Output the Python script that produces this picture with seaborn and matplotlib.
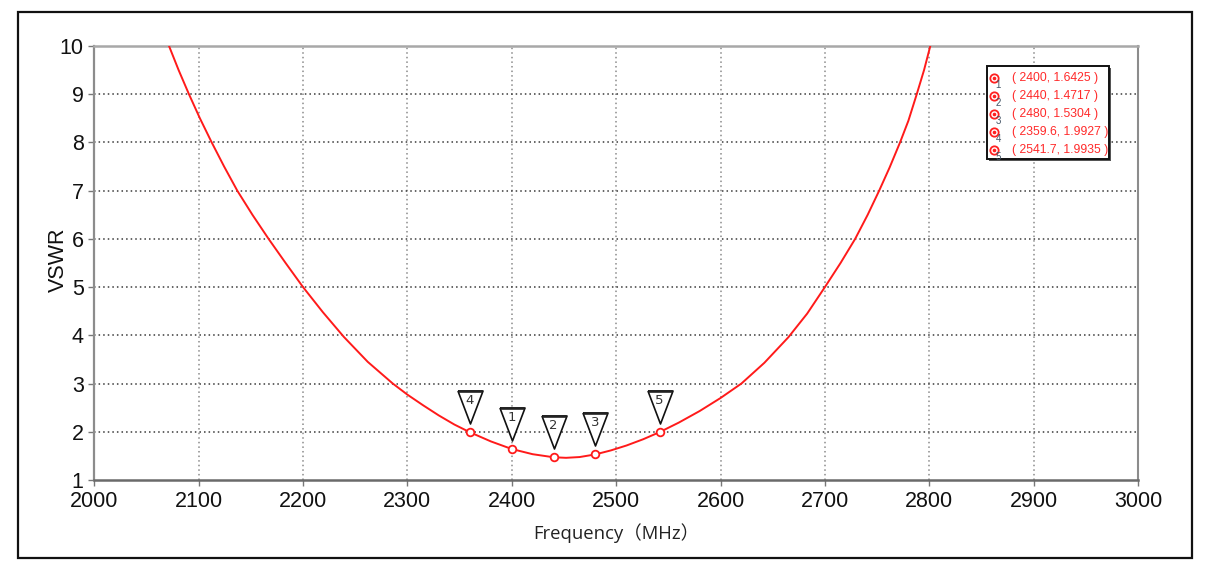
import matplotlib
matplotlib.use("Agg")
import matplotlib.pyplot as plt
import numpy as np
import pandas as pd
import seaborn as sns
from matplotlib.patches import Rectangle
from matplotlib.lines import Line2D
from matplotlib.transforms import offset_copy

# ---- data ----
freq_mhz = [2071.6, 2080.8, 2090.7, 2101.2, 2112.5, 2124.4, 2137, 2151.5, 2167, 2183.3,
            2200, 2219, 2239, 2262, 2286, 2300, 2315, 2330, 2345, 2359.6,
            2380, 2400, 2420, 2440, 2452, 2465, 2480, 2495, 2510, 2526,
            2541.7, 2560, 2580, 2600, 2620, 2642, 2665, 2683, 2700, 2715,
            2729, 2741, 2752, 2762, 2772, 2780, 2788, 2795, 2801]
vswr = [10, 9.5, 9, 8.5, 8, 7.5, 7, 6.5, 6, 5.5,
        5, 4.48, 3.97, 3.45, 3.0, 2.77, 2.55, 2.34, 2.15, 1.9927,
        1.80, 1.6425, 1.535, 1.4717, 1.46, 1.476, 1.5304, 1.614, 1.716, 1.846,
        1.9935, 2.19, 2.43, 2.70, 3.0, 3.43, 3.96, 4.45, 5, 5.5,
        6, 6.5, 7, 7.48, 8, 8.45, 9, 9.5, 10]

marker_ids = [1, 2, 3, 4, 5]
marker_freq = [2400, 2440, 2480, 2359.6, 2541.7]
marker_vswr = [1.6425, 1.4717, 1.5304, 1.9927, 1.9935]

x_ticks = list(range(2000, 3001, 100))
y_ticks = list(range(1, 11))

W, H = 1221, 570
sns.set_theme(style="white")
plt.rcParams["font.family"] = ["Liberation Sans", "DejaVu Sans"]

fig = plt.figure(figsize=(W / 100, H / 100), dpi=100)
fig.patch.set_facecolor("white")

# outer frame
fig.add_artist(Rectangle((18 / W, 1 - 558 / H), (1192 - 18) / W, (558 - 12) / H,
                         transform=fig.transFigure, fill=False, ec="#111111", lw=1.6))

L, R, T, B = 94.3, 1138, 46, 480
ax = fig.add_axes([L / W, 1 - B / H, (R - L) / W, (B - T) / H])
ax.set_facecolor("white")

# grid
for xv in x_ticks[1:-1]:
    ax.axvline(xv, color="#8a8a8a", lw=1.1, ls=(0, (1, 2)), zorder=1)
for yv in y_ticks[1:-1]:
    ax.axhline(yv, color="#3a3a3a", lw=1.1, ls=(0, (1, 2)), zorder=1)

df = pd.DataFrame({"Frequency": freq_mhz, "VSWR": vswr})
sns.lineplot(data=df, x="Frequency", y="VSWR", ax=ax, color="#ff1a1a", lw=1.4, zorder=3)

mdf = pd.DataFrame({"f": marker_freq, "v": marker_vswr, "id": marker_ids})
ax.plot(mdf["f"], mdf["v"], "o", mfc="white", mec="#ff1a1a", ms=5.5, mew=1.3, zorder=4)

# triangle flags
px = 0.72
tri = [(-0.38, 0.5), (0.38, 0.5), (0.0, -0.5), (-0.38, 0.5)]
for f, v, i in zip(mdf["f"], mdf["v"], mdf["id"]):
    tr = offset_copy(ax.transData, fig=fig, x=0, y=25.5 * px, units="points")
    ax.plot([f], [v], marker=tri, ms=33 * px, mfc="white", mec="#111111", mew=1.2,
            transform=tr, clip_on=False, zorder=5, ls="none")
    tr2 = offset_copy(ax.transData, fig=fig, x=0, y=41.5 * px, units="points")
    ax.plot([f], [v], marker="_", ms=24 * px, mec="#222222", mew=1.9,
            transform=tr2, clip_on=False, zorder=6, ls="none")
    tr3 = offset_copy(ax.transData, fig=fig, x=0, y=32 * px, units="points")
    ax.text(f, v, str(i), transform=tr3, ha="center", va="center", fontsize=9.5,
            color="#333333", zorder=7, family=["DejaVu Sans"])

ax.set_xlim(2000, 3000)
ax.set_ylim(1, 10)
ax.set_xticks(x_ticks)
ax.set_yticks(y_ticks)
ax.tick_params(axis="both", which="major", labelsize=15.5, labelcolor="#111111",
               length=4, width=1, color="#777777", direction="out",
               bottom=True, left=True, pad=3.6)
for side, c, w in [("left", "#8c8c8c", 1.6), ("bottom", "#6a6a6a", 1.8),
                   ("top", "#a8a8a8", 1.8), ("right", "#8c8c8c", 1.5)]:
    ax.spines[side].set_visible(True)
    ax.spines[side].set_color(c)
    ax.spines[side].set_linewidth(w)

ax.set_ylabel("VSWR", fontsize=15.5, color="#111111")
ax.yaxis.set_label_coords(-0.024, 0.508)
ax.set_xlabel("Frequency（MHz）", fontsize=13.3, color="#222222",
              family=["Open Sans", "Noto Sans CJK SC"])
ax.xaxis.label.set_va("center")
ax.xaxis.set_label_coords(0.5, (B - 533) / (B - T))

# marker legend box
bx0, by0, bx1, by1 = 987, 66, 1109, 159
fig.add_artist(Rectangle(((bx0 + 2) / W, 1 - (by1 + 2) / H), (bx1 - bx0) / W, (by1 - by0) / H,
                         transform=fig.transFigure, fc="#555555", ec="none", zorder=8))
fig.add_artist(Rectangle((bx0 / W, 1 - by1 / H), (bx1 - bx0) / W, (by1 - by0) / H,
                         transform=fig.transFigure, fc="white", ec="#111111", lw=1.4, zorder=9))
for k, (f, v, i) in enumerate(zip(mdf["f"], mdf["v"], mdf["id"])):
    yy = 78.3 + k * 18
    fig.add_artist(Line2D([994 / W], [1 - yy / H], marker="o", ms=6, mfc="white",
                          mec="#ff2020", mew=1.3, transform=fig.transFigure, zorder=10))
    fig.add_artist(Line2D([994 / W], [1 - yy / H], marker="o", ms=1.6, mfc="#ff2020",
                          mec="#ff2020", transform=fig.transFigure, zorder=11))
    fig.text(998.5 / W, 1 - (yy + 7) / H, str(i), fontsize=7, color="#445566",
             ha="center", va="center", zorder=11)
    fig.text(1011.5 / W, 1 - yy / H, f"( {f:g}, {v:.4f} )", fontsize=8.8,
             color="#ff2a2a", ha="left", va="center", zorder=11)

fig.savefig("out.png", dpi=100, facecolor="white")
